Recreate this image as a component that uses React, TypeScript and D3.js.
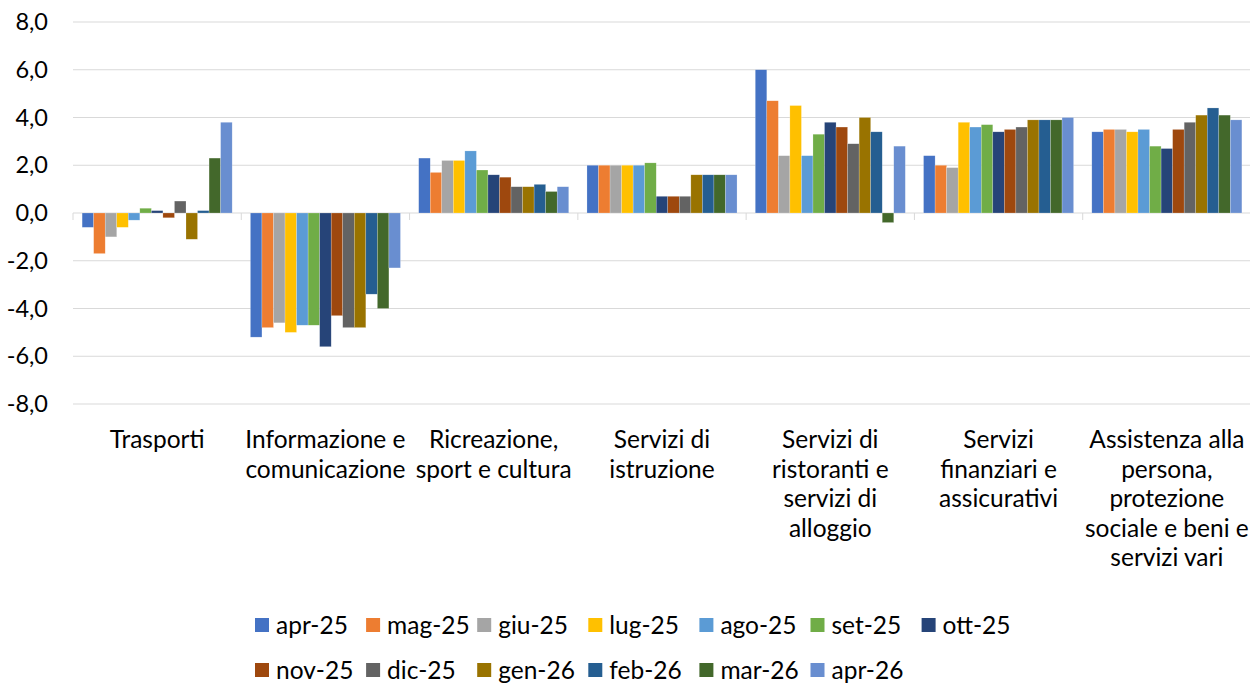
import React from 'react';
import * as d3 from 'd3';

const categories = [
  ['Trasporti'],
  ['Informazione e', 'comunicazione'],
  ['Ricreazione,', 'sport e cultura'],
  ['Servizi di', 'istruzione'],
  ['Servizi di', 'ristoranti e', 'servizi di', 'alloggio'],
  ['Servizi', 'finanziari e', 'assicurativi'],
  ['Assistenza alla', 'persona,', 'protezione', 'sociale e beni e', 'servizi vari'],
];

const months = [
  'apr-25', 'mag-25', 'giu-25', 'lug-25', 'ago-25', 'set-25', 'ott-25',
  'nov-25', 'dic-25', 'gen-26', 'feb-26', 'mar-26', 'apr-26',
];

const apr25 = [-0.6, -5.2, 2.3, 2.0, 6.0, 2.4, 3.4];
const mag25 = [-1.7, -4.8, 1.7, 2.0, 4.7, 2.0, 3.5];
const giu25 = [-1.0, -4.6, 2.2, 2.0, 2.4, 1.9, 3.5];
const lug25 = [-0.6, -5.0, 2.2, 2.0, 4.5, 3.8, 3.4];
const ago25 = [-0.3, -4.7, 2.6, 2.0, 2.4, 3.6, 3.5];
const set25 = [0.2, -4.7, 1.8, 2.1, 3.3, 3.7, 2.8];
const ott25 = [0.1, -5.6, 1.6, 0.7, 3.8, 3.4, 2.7];
const nov25 = [-0.2, -4.3, 1.5, 0.7, 3.6, 3.5, 3.5];
const dic25 = [0.5, -4.8, 1.1, 0.7, 2.9, 3.6, 3.8];
const gen26 = [-1.1, -4.8, 1.1, 1.6, 4.0, 3.9, 4.1];
const feb26 = [0.1, -3.4, 1.2, 1.6, 3.4, 3.9, 4.4];
const mar26 = [2.3, -4.0, 0.9, 1.6, -0.4, 3.9, 4.1];
const apr26 = [3.8, -2.3, 1.1, 1.6, 2.8, 4.0, 3.9];

const series = [apr25, mag25, giu25, lug25, ago25, set25, ott25, nov25, dic25, gen26, feb26, mar26, apr26];

const colors = [
  '#4472C4', '#ED7D31', '#A5A5A5', '#FFC000', '#5B9BD5', '#70AD47', '#264478',
  '#9E480E', '#636363', '#997300', '#255E91', '#43682B', '#698ED0',
];

const yTicks = [-8, -6, -4, -2, 0, 2, 4, 6, 8];

const W = 1250;
const H = 684;
const font = 'Lato, "Open Sans", sans-serif';

const App = () => {
  const keys = categories.map(c => c.join(' '));
  const x0 = d3.scaleBand().domain(keys).range([73, 1251]);
  const x1 = d3
    .scaleBand()
    .domain(months)
    .range([0, x0.bandwidth()])
    .paddingInner(0)
    .paddingOuter(0.79);
  const y = d3.scaleLinear().domain([-8, 8]).range([404, 22]);
  const fmt = (v: number) => d3.format('.1f')(v).replace('.', ',').replace('−', '-');

  const legendRows = [months.slice(0, 7), months.slice(7)];

  return (
    <svg
      width={W}
      height={H}
      style={{ position: 'absolute', left: 0, top: 0, background: '#fff' }}
      fontFamily={font}
    >
      {yTicks.map(t => (
        <g key={t}>
          <line x1={73} x2={1251} y1={y(t)} y2={y(t)} stroke="#D9D9D9" strokeWidth={1} />
          <text x={48} y={y(t)} dy="0.35em" textAnchor="end" fontSize={23.5} fill="#000">
            {fmt(t)}
          </text>
        </g>
      ))}

      {d3.range(categories.length + 1).map(i => {
        const xx = i < categories.length ? x0(keys[i])! : x0(keys[i - 1])! + x0.bandwidth();
        return <line key={i} x1={xx} x2={xx} y1={y(0)} y2={y(0) + 7} stroke="#D9D9D9" />;
      })}

      {series.map((vals, si) => (
        <g key={months[si]} fill={colors[si]}>
          {vals.map((v, ci) => (
            <rect
              key={ci}
              x={x0(keys[ci])! + x1(months[si])!}
              width={x1.bandwidth()}
              y={y(Math.max(0, v))}
              height={Math.abs(y(v) - y(0))}
              stroke="#fff"
              strokeOpacity={0.4}
              strokeWidth={0.5}
            />
          ))}
        </g>
      ))}

      {categories.map((lines, ci) => (
        <text
          key={ci}
          x={x0(keys[ci])! + x0.bandwidth() / 2}
          y={448}
          textAnchor="middle"
          fontSize={24.5}
          fill="#000"
        >
          {lines.map((l, li) => (
            <tspan key={li} x={x0(keys[ci])! + x0.bandwidth() / 2} dy={li === 0 ? 0 : 29.5}>
              {l}
            </tspan>
          ))}
        </text>
      ))}

      {legendRows.map((row, ri) =>
        row.map((m, mi) => {
          const lx = 255 + mi * 111.1;
          const ly = 625 + ri * 45;
          const idx = months.indexOf(m);
          return (
            <g key={m}>
              <rect x={lx} y={ly - 7} width={14} height={14} fill={colors[idx]} />
              <text x={lx + 21} y={ly} dy="0.35em" fontSize={24.5} fill="#000">
                {m}
              </text>
            </g>
          );
        })
      )}
    </svg>
  );
};

export default App;
